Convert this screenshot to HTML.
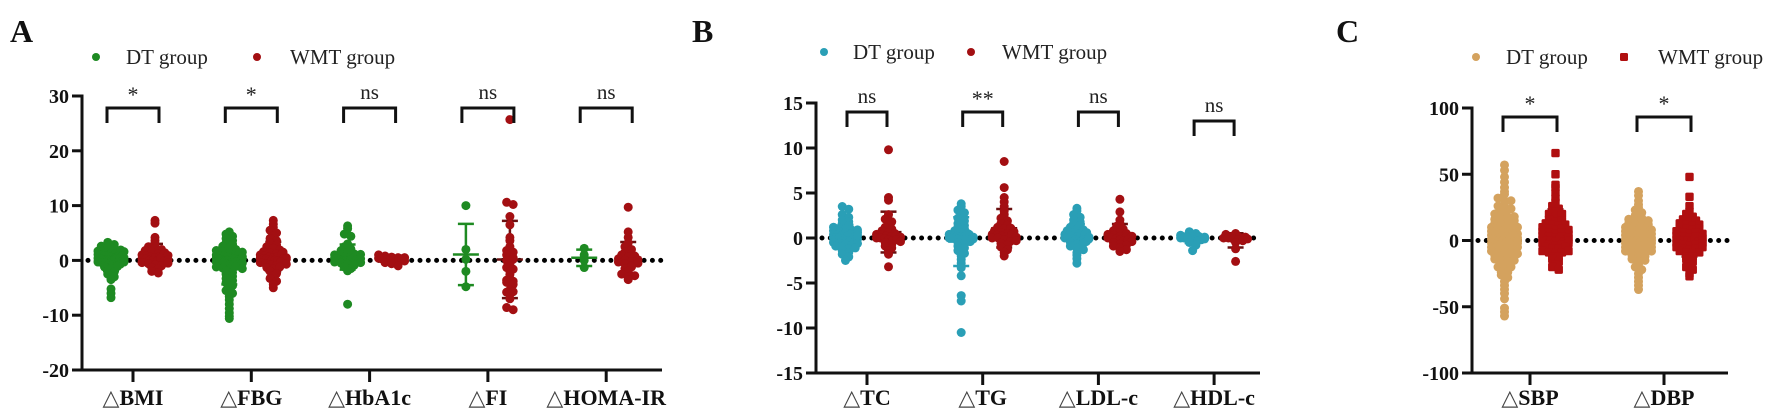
<!DOCTYPE html>
<html><head><meta charset="utf-8">
<style>
html,body{margin:0;padding:0;background:#fff;}
svg{display:block;font-family:"Liberation Serif",serif;}
</style></head>
<body>
<svg id="fig" width="1772" height="414" viewBox="0 0 1772 414" xmlns="http://www.w3.org/2000/svg"></svg>
<script>
// ---- Panel A data ----
const catsA = ["BMI","FBG","HbA1c","FI","HOMA-IR"];
const sigA = ["*","*","ns","ns","ns"];
const ticksA = [30,20,10,0,-10,-20];
const A_BMI_DT = [3.3,2.9,2.6,2.3,2.1,1.9,1.7,1.5,1.4,1.3,1.2,1.1,1.0,1.0,0.9,0.8,0.7,0.6,0.5,0.5,0.4,0.3,0.2,0.1,0,0,0,-0.1,-0.2,-0.3,-0.4,-0.5,-0.6,-0.8,-1.0,-1.2,-1.5,-1.8,-2.1,-2.5,-3.0,-3.5,-5.2,-6.0,-6.8,0.2,0.3,0.6,-0.2,-0.7,1.3,0.9,0.4,-0.1,0.1,0.8,-0.3,0.5,1.6,-1.1];
const A_BMI_WMT = [7.3,6.8,4.2,3.6,3.0,2.5,2.2,2.0,1.8,1.5,1.2,1.0,0.8,0.6,0.5,0.3,0.2,0,0,-0.2,-0.4,-0.6,-0.8,-1.0,-1.3,-1.6,-2.0,-2.3,0.4,0.7,1.1,-0.1,0.1,-0.5,0.9,1.4];
const A_FBG_DT = [5.2,4.8,4.4,4.0,3.6,3.2,2.9,2.6,2.3,2.0,1.8,1.6,1.4,1.2,1.0,0.9,0.8,0.6,0.5,0.4,0.3,0.2,0.1,0,0,0,-0.1,-0.2,-0.3,-0.4,-0.5,-0.6,-0.8,-1.0,-1.2,-1.4,-1.6,-1.9,-2.2,-2.5,-2.9,-3.3,-3.7,-4.1,-4.6,-5.0,-5.5,-6.0,-6.6,-7.2,-8.0,-8.8,-9.6,-10.2,-10.6,0.3,0.6,-0.3,-0.7,1.1,-1.1,0.2,-0.2,0.7,-0.5,1.5,-1.5,0.1,-0.1,0.4];
const A_FBG_WMT = [7.3,6.6,6.0,5.5,5.0,4.5,4.0,3.6,3.2,2.8,2.5,2.2,1.9,1.6,1.4,1.2,1.0,0.8,0.6,0.5,0.4,0.3,0.2,0.1,0,0,-0.1,-0.2,-0.4,-0.6,-0.8,-1.0,-1.3,-1.6,-2.0,-2.4,-2.8,-3.3,-3.8,-4.4,-5.0,0.3,0.7,1.1,-0.3,-0.7,0.5,1.5,-1.2,0.2];
const A_HBA_DT = [6.3,5.8,4.8,4.4,3.0,2.5,2.1,1.8,1.5,1.2,1.0,0.8,0.6,0.5,0.4,0.3,0.2,0.1,0,0,0,-0.1,-0.2,-0.3,-0.5,-0.7,-0.9,-1.2,-1.5,-1.9,-8.0,0.2,0.4,-0.2,0.7,-0.4,1.1,0.1,-0.1,0.3];
const A_HBA_WMT = [1.0,0.8,0.6,0.5,0.4,0.3,0.2,0.1,0,0,-0.2,-0.4,-0.6,-1.0,0.2,0.3,-0.1,0.5];
const A_FI_DT = [10.0,2.0,0.2,-2.0,-4.8];
const A_FI_WMT = [25.7,10.6,10.2,8.0,6.5,4.2,3.6,2.5,1.8,1.0,0.5,0,-0.6,-1.3,-2.0,-2.6,-3.6,-4.0,-4.4,-5.4,-5.8,-6.2,-7.0,-8.6,-9.0,-3.8,-1.6,1.5,0.2,-5.7];
const A_HOMA_DT = [2.2,1.0,0,-1.3];
const A_HOMA_WMT = [9.7,5.2,4.2,3.2,2.5,2.0,1.5,1.0,0.6,0.3,0,-0.3,-0.6,-1.0,-1.5,-2.0,-2.5,-3.0,-3.5,-0.2,0.8,-1.2,0.1,-0.5,1.2,-2.8];
// ---- Panel B data ----
const catsB = ["TC","TG","LDL-c","HDL-c"];
const sigB = ["ns","**","ns","ns"];
const ticksB = [15,10,5,0,-5,-10,-15];
const B_TC_DT = [3.5,3.2,2.6,2.3,2.0,1.8,1.6,1.4,1.2,1.1,1.0,0.9,0.8,0.7,0.6,0.5,0.4,0.3,0.2,0.1,0,0,0,-0.1,-0.2,-0.3,-0.4,-0.5,-0.6,-0.7,-0.8,-0.9,-1.0,-1.2,-1.4,-1.6,-1.8,-2.1,-2.5,0.2,0.4,-0.2,-0.4,0.6,-0.6,0.1,-0.1,0.3,0.9,-1.1];
const B_TC_WMT = [9.8,4.5,4.2,2.6,2.1,1.8,1.5,1.2,1.0,0.8,0.6,0.4,0.3,0.2,0.1,0,0,-0.1,-0.2,-0.3,-0.5,-0.7,-0.9,-1.1,-1.4,-1.8,-3.2,0.2,-0.2,0.5,-0.4,0.1];
const B_TG_DT = [3.8,3.5,3.1,2.8,2.5,2.2,1.9,1.6,1.4,1.2,1.0,0.8,0.6,0.5,0.4,0.3,0.2,0.1,0,0,0,-0.1,-0.2,-0.3,-0.5,-0.7,-0.9,-1.1,-1.4,-1.7,-2.0,-2.4,-2.8,-3.3,-4.2,-6.4,-7.0,-10.5,0.2,-0.2,0.4,-0.4,0.1,-0.1];
const B_TG_WMT = [8.5,5.6,4.5,4.0,3.5,3.0,2.6,2.2,1.9,1.6,1.4,1.2,1.0,0.8,0.6,0.5,0.4,0.3,0.2,0.1,0,0,-0.2,-0.4,-0.6,-0.8,-1.0,-1.3,-1.6,-2.0,0.3,0.7,-0.3,1.1,0.1];
const B_LDL_DT = [3.3,3.0,2.6,2.3,2.0,1.8,1.6,1.4,1.2,1.0,0.9,0.8,0.6,0.5,0.4,0.3,0.2,0.1,0,0,0,-0.1,-0.2,-0.3,-0.4,-0.5,-0.7,-0.9,-1.1,-1.3,-1.6,-1.9,-2.3,-2.8,0.2,-0.2,0.4,-0.4,0.1,-0.1,0.6,-0.6];
const B_LDL_WMT = [4.3,2.9,2.0,1.6,1.3,1.0,0.8,0.6,0.4,0.3,0.2,0.1,0,0,-0.1,-0.2,-0.3,-0.5,-0.7,-0.9,-1.1,-1.3,-1.5,0.2,-0.2,0.5,-0.4,-0.8];
const B_HDL_DT = [0.7,0.5,0.3,0.2,0.1,0,0,0,-0.1,-0.2,-0.3,-0.5,-0.8,-1.4,0.2,-0.2,0.1,-0.1];
const B_HDL_WMT = [0.5,0.4,0.2,0.1,0,0,-0.1,-0.2,-0.3,-0.5,-1.2,-2.6,0.1,-0.1];
// ---- Panel C data ----
const catsC = ["SBP","DBP"];
const sigC = ["*","*"];
const ticksC = [100,50,0,-50,-100];
const C_SBP_DT = [57,53,48,44,40,37,35,32,30,28,26,24,22,20,19,18,16,15,14,13,12,11,10,9,8,7,6,5,5,4,3,2,2,1,0,0,0,-1,-2,-3,-4,-5,-5,-6,-7,-8,-9,-10,-11,-12,-13,-14,-15,-16,-18,-20,-22,-24,-26,-28,-31,-34,-37,-40,-44,-51,-54,-57,3,-3,6,-6,9,-9,1,-1,12,-12,15,-15,0,2,-2,4,-4,7,-7,10,-10,18,-18,24,-20,30,-24,2,-2,5,-5];
const C_SBP_WMT = [66,50,42,40,36,32,29,26,24,22,20,18,16,14,13,12,11,10,9,8,7,6,5,4,3,2,1,0,0,-1,-2,-3,-4,-5,-6,-8,-9,-10,-12,-14,-16,-18,-20,-22,3,-3,6,-6,9,-9,1,-1,12,-12,15,5,-5,8,-8,20,0,2,-2];
const C_DBP_DT = [37,34,30,27,25,23,21,19,17,16,15,14,13,12,11,10,9,8,7,6,5,4,3,2,1,0,0,0,-1,-2,-3,-4,-5,-6,-7,-8,-9,-10,-11,-12,-14,-16,-18,-20,-22,-25,-28,-31,-34,-37,3,-3,6,-6,9,-9,1,-1,12,-12,0,2,-2,5,-5,15,-15,8,-8];
const C_DBP_WMT = [48,33,26,22,20,18,16,14,13,12,11,10,9,8,7,6,5,4,3,2,1,0,0,0,-1,-2,-3,-4,-5,-6,-7,-8,-9,-10,-12,-14,-16,-18,-20,-22,-25,-27,3,-3,6,-6,9,-9,1,-1,12,-12,0,2,-2,5,-5,15];

const NS = "http://www.w3.org/2000/svg";
const svg = document.getElementById('fig');
function mk(tag, attrs, parent){
  const e = document.createElementNS(NS, tag);
  for (const k in attrs) e.setAttribute(k, attrs[k]);
  (parent||svg).appendChild(e);
  return e;
}

function panel(cfg){
  const g = mk('g', {});
  
  
  const yS = v => cfg.y0 + (cfg.vmax - v) / (cfg.vmax - cfg.vmin) * (cfg.y1 - cfg.y0);
  const L = mk('text', {x: cfg.letterX, y: 42, 'font-size': 32, 'font-weight': 'bold', fill: '#111'}, g);
  L.textContent = cfg.letter;
  
  
  const lg = mk('g', {}, g);
  
  
  const items = [["DT group", cfg.dtColor, cfg.leg[0], cfg.leg[1], false], ["WMT group", cfg.wmtColor, cfg.leg[2], cfg.leg[3], cfg.squareWMT]];
  items.forEach(it => {
    const ent = mk('g', {}, lg);
    
    
    if (it[4]) mk('rect', {x: it[2]-4, y: cfg.legY-4, width: 8, height: 8, rx: 1.5, fill: it[1]}, ent);
    else mk('circle', {cx: it[2], cy: cfg.legY, r: 4, fill: it[1]}, ent);
    const t = mk('text', {x: it[3], y: cfg.legY + 7, 'font-size': 21, fill: '#222'}, ent);
    t.textContent = it[0];
  });
  const ya = mk('g', {}, g);
  
  
  mk('line', {x1: cfg.ax, y1: yS(cfg.vmax)-1.5, x2: cfg.ax, y2: yS(cfg.vmin)+1.5, stroke: '#111', 'stroke-width': 3}, ya);
  cfg.ticks.forEach(v => {
    mk('line', {x1: cfg.ax-10, y1: yS(v), x2: cfg.ax, y2: yS(v), stroke: '#111', 'stroke-width': 3}, ya);
    const t = mk('text', {x: cfg.ax-13, y: yS(v)+7, 'font-size': 20, 'font-weight': 'bold', 'text-anchor': 'end', fill: '#111'}, ya);
    t.textContent = v;
    
    
  });
  const xa = mk('g', {}, g);
  
  
  const yb = yS(cfg.vmin);
  mk('line', {x1: cfg.ax, y1: yb, x2: cfg.xEnd, y2: yb, stroke: '#111', 'stroke-width': 3}, xa);
  cfg.cats.forEach((c, i) => {
    const x = cfg.ax + cfg.first + i * cfg.step;
    mk('line', {x1: x, y1: yb, x2: x, y2: yb+12, stroke: '#111', 'stroke-width': 3}, xa);
    const t = mk('text', {x: x, y: 405, 'font-size': 22, 'font-weight': 'bold', 'text-anchor': 'middle', fill: '#111'}, xa);
    
    
    const tr = mk('tspan', {'font-weight': 'normal', fill: '#444'}, t);
    tr.textContent = '△';
    const tb = mk('tspan', {}, t);
    tb.textContent = c;
  });
  const zl = mk('line', {x1: cfg.ax+6, y1: yS(0), x2: cfg.xEnd, y2: yS(0), stroke: '#000', 'stroke-width': 5, 'stroke-dasharray': '0 8.3', 'stroke-linecap': 'round'}, g);
  
  
  cfg.cats.forEach((c, i) => {
    const x = cfg.ax + cfg.first + i * cfg.step;
    [[cfg.dt[i], x - cfg.off, cfg.dtColor, false, 'dt'], [cfg.wmt[i], x + cfg.off, cfg.wmtColor, cfg.squareWMT, 'wmt']].forEach(grp => {
      const vals = grp[0], cx = grp[1];
      const gg = mk('g', {}, g);
      
      
      // mean ± SD (behind points)
      const mean = vals.reduce((a, b) => a + b, 0) / vals.length;
      const sd = Math.sqrt(vals.reduce((a, b) => a + (b - mean) * (b - mean), 0) / (vals.length - 1));
      const eb = mk('g', {stroke: grp[4]==='dt' ? grp[2] : '#6a1010', 'stroke-width': 2.5}, gg);
      
      
      mk('line', {x1: cx, y1: yS(mean+sd), x2: cx, y2: yS(mean-sd)}, eb);
      mk('line', {x1: cx-8, y1: yS(mean+sd), x2: cx+8, y2: yS(mean+sd)}, eb);
      mk('line', {x1: cx-8, y1: yS(mean-sd), x2: cx+8, y2: yS(mean-sd)}, eb);
      mk('line', {x1: cx-13, y1: yS(mean), x2: cx+13, y2: yS(mean)}, eb);
      const rows = {};
      vals.forEach(v => {
        const py = yS(v);
        const r = Math.round(py / 4);
        (rows[r] = rows[r] || []).push(py);
      });
      Object.keys(rows).forEach(k => {
        const arr = rows[k];
        const n = arr.length;
        const sp = n > 1 ? Math.min(6.5, cfg.maxW / (n - 1)) : 0;
        arr.forEach((py, j) => {
          const dx = (j - (n - 1) / 2) * sp;
          let m;
          if (grp[3]) m = mk('rect', {x: cx+dx-4.2, y: py-4.2, width: 8.4, height: 8.4, rx: 1.5, fill: grp[2]}, gg);
          else m = mk('circle', {cx: cx+dx, cy: py, r: 4.5, fill: grp[2]}, gg);
          
          
        });
      });
    });
    const bt = cfg.brTop[i];
    const br = mk('path', {d: `M${x-cfg.brHalf},${bt+15} V${bt} H${x+cfg.brHalf} V${bt+15}`, fill: 'none', stroke: '#111', 'stroke-width': 3}, g);
    
    
    const s = cfg.sig[i];
    const st = mk('text', {x: x, y: s === 'ns' ? bt-9 : bt-6, 'font-size': s === 'ns' ? 21 : 22, 'text-anchor': 'middle', fill: '#222'}, g);
    st.textContent = s;
    
    
  });
}

panel({letter: 'A', letterX: 10, leg: [96, 126, 257, 290], legY: 57,
  ax: 82, xEnd: 662, y0: 96, y1: 370, vmax: 30, vmin: -20, ticks: ticksA,
  cats: catsA, sig: sigA, first: 51, step: 118.3, off: 22, brHalf: 26, maxW: 26,
  brTop: [108, 108, 108, 108, 108],
  dt: [A_BMI_DT, A_FBG_DT, A_HBA_DT, A_FI_DT, A_HOMA_DT],
  wmt: [A_BMI_WMT, A_FBG_WMT, A_HBA_WMT, A_FI_WMT, A_HOMA_WMT],
  dtColor: '#1e8a22', wmtColor: '#a30f12', squareWMT: false});
panel({letter: 'B', letterX: 692, leg: [824, 853, 971, 1002], legY: 52,
  ax: 816, xEnd: 1260, y0: 103, y1: 373, vmax: 15, vmin: -15, ticks: ticksB,
  cats: catsB, sig: sigB, first: 51, step: 115.7, off: 21.5, brHalf: 20, maxW: 24,
  brTop: [112, 112, 112, 121],
  dt: [B_TC_DT, B_TG_DT, B_LDL_DT, B_HDL_DT],
  wmt: [B_TC_WMT, B_TG_WMT, B_LDL_WMT, B_HDL_WMT],
  dtColor: '#2a9fb6', wmtColor: '#a30f12', squareWMT: false});
panel({letter: 'C', letterX: 1336, leg: [1476, 1506, 1624, 1658], legY: 57,
  ax: 1472, xEnd: 1728, y0: 108, y1: 373, vmax: 100, vmin: -100, ticks: ticksC,
  cats: catsC, sig: sigC, first: 58, step: 134, off: 25.5, brHalf: 27, maxW: 26,
  brTop: [117, 117],
  dt: [C_SBP_DT, C_DBP_DT],
  wmt: [C_SBP_WMT, C_DBP_WMT],
  dtColor: '#d4a25e', wmtColor: '#b00f10', squareWMT: true});
</script>
</body></html>
